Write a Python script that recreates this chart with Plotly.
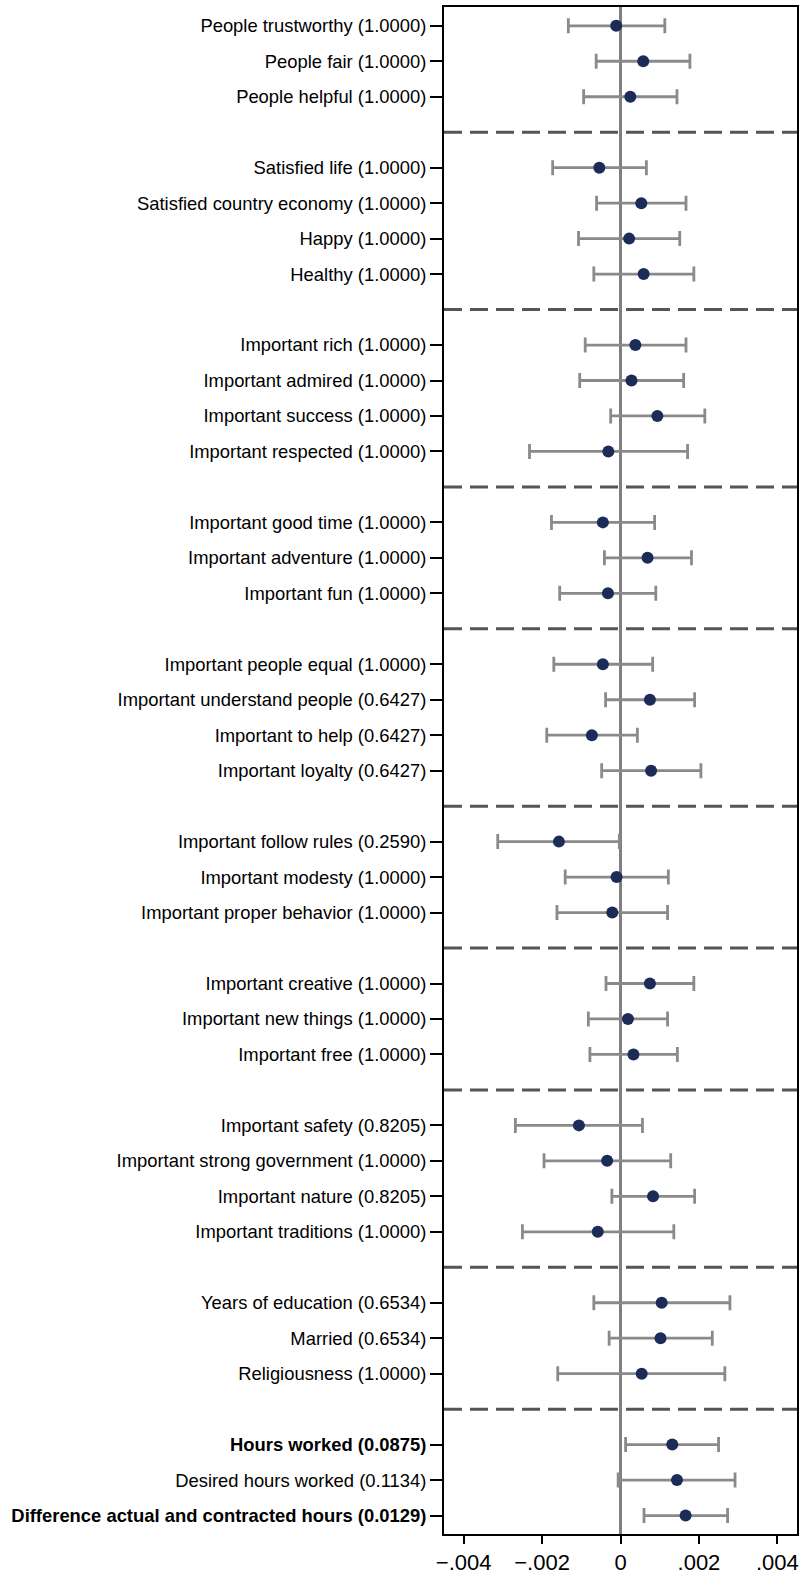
import plotly.graph_objects as go

labels = [
    "People trustworthy (1.0000)", "People fair (1.0000)", "People helpful (1.0000)",
    "Satisfied life (1.0000)", "Satisfied country economy (1.0000)", "Happy (1.0000)", "Healthy (1.0000)",
    "Important rich (1.0000)", "Important admired (1.0000)", "Important success (1.0000)", "Important respected (1.0000)",
    "Important good time (1.0000)", "Important adventure (1.0000)", "Important fun (1.0000)",
    "Important people equal (1.0000)", "Important understand people (0.6427)", "Important to help (0.6427)", "Important loyalty (0.6427)",
    "Important follow rules (0.2590)", "Important modesty (1.0000)", "Important proper behavior (1.0000)",
    "Important creative (1.0000)", "Important new things (1.0000)", "Important free (1.0000)",
    "Important safety (0.8205)", "Important strong government (1.0000)", "Important nature (0.8205)", "Important traditions (1.0000)",
    "Years of education (0.6534)", "Married (0.6534)", "Religiousness (1.0000)",
    "Hours worked (0.0875)", "Desired hours worked (0.1134)", "Difference actual and contracted hours (0.0129)",
]
bold = [False] * 31 + [True, False, True]
group_sizes = [3, 4, 4, 3, 4, 3, 3, 4, 3, 3]

coef = [
    -0.00011, 0.00058, 0.00025,
    -0.00054, 0.00053, 0.00022, 0.00059,
    0.00038, 0.00028, 0.00094, -0.00031,
    -0.00045, 0.00069, -0.00032,
    -0.00045, 0.00075, -0.00073, 0.00078,
    -0.00157, -0.00010, -0.00021,
    0.00075, 0.00019, 0.00033,
    -0.00106, -0.00034, 0.00083, -0.00058,
    0.00105, 0.00102, 0.00054,
    0.00132, 0.00144, 0.00166,
]
ci_lo = [
    -0.00133, -0.00062, -0.00094,
    -0.00173, -0.00061, -0.00107, -0.00068,
    -0.00090, -0.00104, -0.00025, -0.00232,
    -0.00176, -0.00041, -0.00155,
    -0.00170, -0.00038, -0.00188, -0.00048,
    -0.00313, -0.00141, -0.00162,
    -0.00037, -0.00082, -0.00078,
    -0.00268, -0.00195, -0.00022, -0.00250,
    -0.00068, -0.00029, -0.00160,
    0.00013, -0.00006, 0.00060,
]
ci_hi = [
    0.00113, 0.00177, 0.00144,
    0.00066, 0.00167, 0.00151, 0.00187,
    0.00167, 0.00161, 0.00215, 0.00171,
    0.00087, 0.00181, 0.00090,
    0.00082, 0.00189, 0.00043, 0.00205,
    -0.00003, 0.00122, 0.00120,
    0.00187, 0.00120, 0.00145,
    0.00056, 0.00128, 0.00189, 0.00136,
    0.00279, 0.00234, 0.00266,
    0.00250, 0.00292, 0.00273,
]
x_ticks = [-0.004, -0.002, 0, 0.002, 0.004]
x_ticktext = ["\u2212.004", "\u2212.002", "0", ".002", ".004"]

# slot positions (separators occupy one slot)
ypos, seps = [], []
slot = 1
for gi, n in enumerate(group_sizes):
    for _ in range(n):
        ypos.append(slot)
        slot += 1
    if gi < len(group_sizes) - 1:
        seps.append(slot)
        slot += 1
n_slots = slot - 1

ticktext = [f"<b>{l}</b>" if b else l for l, b in zip(labels, bold)]

fig = go.Figure()
fig.add_trace(go.Scatter(
    x=coef, y=ypos, mode="markers",
    marker=dict(size=12, color="#1c2b58"),
    error_x=dict(type="data", symmetric=False,
                 array=[h - c for h, c in zip(ci_hi, coef)],
                 arrayminus=[c - l for l, c in zip(ci_lo, coef)],
                 color="#8a8a8a", thickness=2.8, width=7.5),
    showlegend=False,
))

shapes = []
for s in seps:
    shapes.append(dict(type="line", xref="paper", x0=0, x1=1, yref="y", y0=s, y1=s,
                       line=dict(color="#555555", width=3, dash="18px,8px"), layer="below"))
shapes.append(dict(type="line", xref="x", x0=0, x1=0, yref="paper", y0=0, y1=1,
                   line=dict(color="#7f7f7f", width=3), layer="below"))

fig.update_layout(
    width=804, height=1576,
    margin=dict(l=444, r=7, t=7, b=42),
    plot_bgcolor="white", paper_bgcolor="white",
    font=dict(family="Liberation Sans, Arial, sans-serif", color="black"),
    shapes=shapes,
    xaxis=dict(range=[-0.0045, 0.0045], tickvals=x_ticks, ticktext=x_ticktext,
               showgrid=False, zeroline=False, showline=True, mirror=True,
               linecolor="black", linewidth=2, ticks="outside", ticklen=8,
               tickwidth=2, tickcolor="black", tickfont=dict(size=22),
               automargin=False),
    yaxis=dict(range=[n_slots + 0.52, 0.47], tickvals=ypos, ticktext=ticktext,
               showgrid=False, zeroline=False, showline=True, mirror=True,
               linecolor="black", linewidth=2, ticks="outside", ticklen=12,
               tickwidth=2, tickcolor="black", tickfont=dict(size=18.4),
               automargin=False),
)

fig.write_html(
    "out.html",
    config={"displayModeBar": False},
    post_script=(
        "document.body.style.margin='0';"
        "document.body.style.overflow='hidden';"
        "document.documentElement.style.overflow='hidden';"
    ),
)
